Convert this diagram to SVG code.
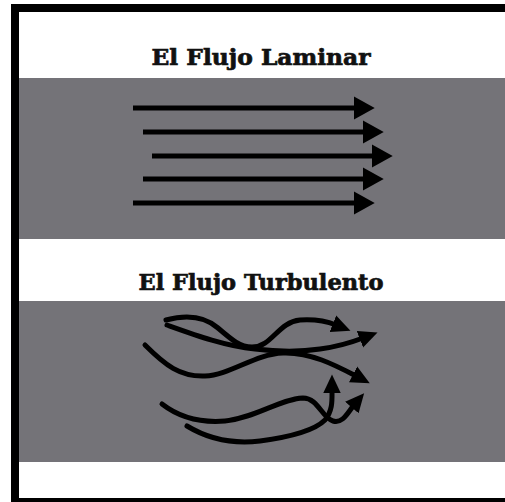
<svg xmlns="http://www.w3.org/2000/svg" width="505" height="502" viewBox="0 0 505 502">
<style>
.title{font-family:"DejaVu Serif","Liberation Serif",serif;font-weight:bold;font-size:23px;fill:#111;stroke:#111;stroke-width:0.7px;}
.band{fill:#747378;}
.lam{stroke:#000;stroke-width:5;fill:none;marker-end:url(#headL);}
.tur{stroke:#000;stroke-width:5;fill:none;stroke-linecap:round;}
.arr{marker-end:url(#headT);}
</style>
<defs>
<marker id="headL" markerUnits="userSpaceOnUse" markerWidth="22" markerHeight="24" viewBox="0 -11 20 22" refX="0" refY="0" orient="auto">
<path d="M0,-10.5 L19,0 L0,10.5 z" fill="#000"/>
</marker>
<marker id="headT" markerUnits="userSpaceOnUse" markerWidth="20" markerHeight="20" viewBox="0 -9 18 18" refX="3" refY="0" orient="auto">
<path d="M0,-8 L17,0 L0,8 z" fill="#000"/>
</marker>
</defs>
<rect x="0" y="0" width="505" height="502" fill="#fff"/>
<rect x="11" y="4" width="494" height="498" fill="#000"/>
<rect x="19" y="12" width="486" height="486" fill="#fff"/>
<rect class="band" x="19" y="78" width="486" height="161"/>
<rect class="band" x="19" y="301" width="486" height="161"/>
<g id="title-laminar"><text class="title" x="261" y="65" text-anchor="middle" textLength="219" lengthAdjust="spacingAndGlyphs">El Flujo Laminar</text></g>
<g id="title-turbulento"><text class="title" x="261" y="290" text-anchor="middle" textLength="245" lengthAdjust="spacingAndGlyphs">El Flujo Turbulento</text></g>
<g id="connectors">
<g id="laminar">
<line class="lam" x1="133" y1="108" x2="354" y2="108"/>
<line class="lam" x1="143" y1="132" x2="363" y2="132"/>
<line class="lam" x1="152" y1="156" x2="372" y2="156"/>
<line class="lam" x1="143" y1="179" x2="363" y2="179"/>
<line class="lam" x1="133" y1="203" x2="354" y2="203"/>
</g>
<g id="turbulent">
<path class="tur arr" d="M166,320 C185,315 203,315 218,328 C232,340 240,347 252,347 C272,347 278,322 300,320 C315,319 326,321 336,325"/>
<path class="tur arr" d="M167,325 C195,335 225,346 255,349 C280,352 300,352 320,349 C335,347 350,343 363,338"/>
<path class="tur arr" d="M145,345 C165,365 180,377 205,376 C230,375 255,354 283,353 C310,352 335,365 356,376"/>
<path class="tur arr" d="M162,404 C180,418 200,423 225,421 C255,418 280,399 303,398 C318,398 322,418 333,421 C343,424 348,412 354,405"/>
<path class="tur arr" d="M187,426 C210,440 235,444 260,441 C290,437 315,430 325,420 C333,410 332,400 332,390"/>
</g>
</g>
</svg>
